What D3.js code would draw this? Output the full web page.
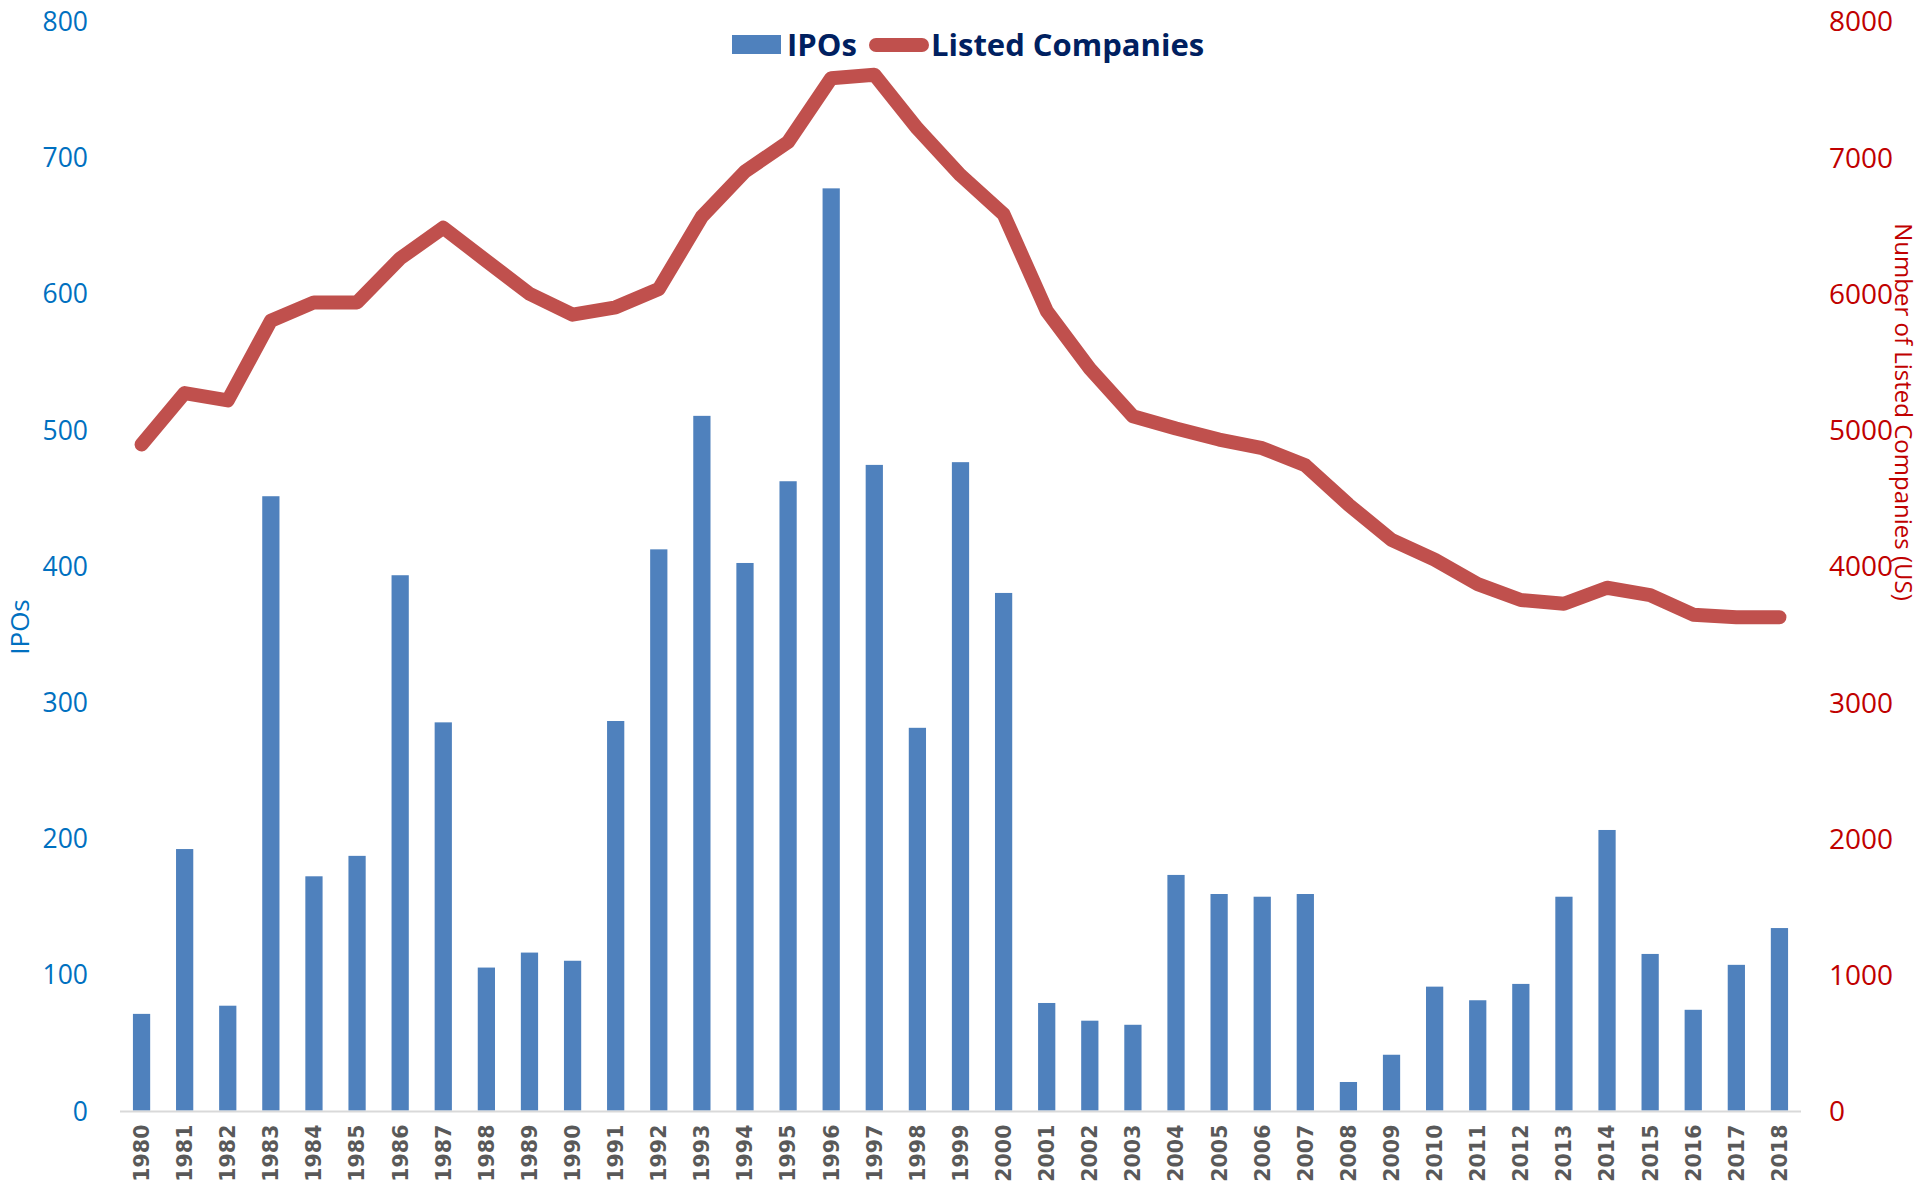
<!DOCTYPE html>
<html><head><meta charset="utf-8">
<script src="https://cdn.jsdelivr.net/npm/d3@7"></script>
<style>html,body{margin:0;padding:0;background:#fff;overflow:hidden}</style>
</head><body>
<svg id="chart" width="1920" height="1189"></svg>
<script>
const years = ["1980","1981","1982","1983","1984","1985","1986","1987","1988","1989","1990","1991","1992","1993","1994","1995","1996","1997","1998","1999","2000","2001","2002","2003","2004","2005","2006","2007","2008","2009","2010","2011","2012","2013","2014","2015","2016","2017","2018"];
const ipos = [71,192,77,451,172,187,393,285,105,116,110,286,412,510,402,462,677,474,281,476,380,79,66,63,173,159,157,159,21,41,91,81,93,157,206,115,74,107,134];
const listed = [4890,5267,5213,5798,5933,5933,6256,6481,6238,5996,5843,5897,6031,6562,6894,7110,7578,7604,7209,6867,6580,5870,5447,5097,5007,4926,4863,4737,4449,4189,4045,3865,3748,3721,3838,3784,3640,3622,3622];
const leftTicks = [0,100,200,300,400,500,600,700,800];
const rightTicks = [0,1000,2000,3000,4000,5000,6000,7000,8000];
const seriesNames = ["IPOs","Listed Companies"];
const axisTitles = {left:"IPOs", right:"Number of Listed Companies (US)"};

const svg = d3.select("#chart");
const x0 = 120, x1 = 1801, yTop = 20.8, yBot = 1110.6;
const x = d3.scaleBand().domain(years).range([x0, x1]).paddingInner(0.6).paddingOuter(0.3);
const yL = d3.scaleLinear().domain([0,800]).range([yBot, yTop]);
const yR = d3.scaleLinear().domain([0,8000]).range([yBot, yTop]);

// bars
svg.append("g").selectAll("rect").data(years).join("rect")
  .attr("x", d => x(d)).attr("width", x.bandwidth())
  .attr("y", (d,i) => yL(ipos[i])).attr("height", (d,i) => yBot - yL(ipos[i]))
  .attr("fill", "#4F81BD");

// bottom axis line
svg.append("line").attr("x1", x0).attr("x2", x1).attr("y1", yBot+1).attr("y2", yBot+1)
  .attr("stroke", "#D9D9D9").attr("stroke-width", 2);

// x labels
const xAxis = svg.append("g").attr("transform", `translate(0,${yBot})`)
  .call(d3.axisBottom(x).tickSize(0).tickPadding(0));
xAxis.select(".domain").remove();
xAxis.selectAll("text")
  .attr("transform", "rotate(-90)")
  .attr("x", -14).attr("y", 0).attr("dy", "0.36em")
  .style("text-anchor", "end")
  .style("font-family", "'DejaVu Sans', sans-serif")
  .style("font-weight", "bold").style("font-size", "20.5px").attr("fill", "#595959");

// left axis
const la = svg.append("g").attr("transform", `translate(88,0)`)
  .call(d3.axisLeft(yL).tickValues(leftTicks).tickSize(0).tickPadding(0));
la.select(".domain").remove();
la.selectAll("text").style("font-family", "'Open Sans', sans-serif").style("font-size", "26.5px")
  .attr("fill", "#0070C0").attr("dy", "0.36em");

// right axis
const ra = svg.append("g").attr("transform", `translate(1829,0)`)
  .call(d3.axisRight(yR).tickValues(rightTicks).tickSize(0).tickPadding(0).tickFormat(d3.format("d")));
ra.select(".domain").remove();
ra.selectAll("text").style("font-family", "'Open Sans', sans-serif").style("font-size", "28px")
  .attr("fill", "#C00000").attr("dy", "0.36em");

// axis titles
svg.append("text").attr("transform", "translate(29,627) rotate(-90)")
  .attr("text-anchor", "middle")
  .style("font-family", "'Open Sans', sans-serif").style("font-size", "26px")
  .attr("fill", "#0070C0").text(axisTitles.left);
svg.append("text").attr("transform", "translate(1895,412) rotate(90)")
  .attr("text-anchor", "middle")
  .style("font-family", "'Open Sans', sans-serif").style("font-size", "24px")
  .attr("fill", "#C00000").text(axisTitles.right);

// line
const line = d3.line().x((d,i) => x(years[i]) + x.bandwidth()/2).y(d => yR(d));
svg.append("path").datum(listed).attr("d", line)
  .attr("fill", "none").attr("stroke", "#C0504D").attr("stroke-width", 14)
  .attr("stroke-linejoin", "round").attr("stroke-linecap", "round");

// legend
const lg = svg.append("g");
lg.append("rect").attr("x", 732).attr("y", 35).attr("width", 49).attr("height", 19).attr("fill", "#4F81BD");
lg.append("text").attr("x", 787).attr("y", 56)
  .style("font-family", "'Open Sans', sans-serif").style("font-weight", "bold").style("font-size", "31px")
  .attr("fill", "#002060").text(seriesNames[0]);
lg.append("line").attr("x1", 876).attr("x2", 922).attr("y1", 45).attr("y2", 45)
  .attr("stroke", "#C0504D").attr("stroke-width", 14).attr("stroke-linecap", "round");
lg.append("text").attr("x", 931).attr("y", 56)
  .style("font-family", "'Open Sans', sans-serif").style("font-weight", "bold").style("font-size", "31px")
  .attr("fill", "#002060").text(seriesNames[1]);
</script>
</body></html>
